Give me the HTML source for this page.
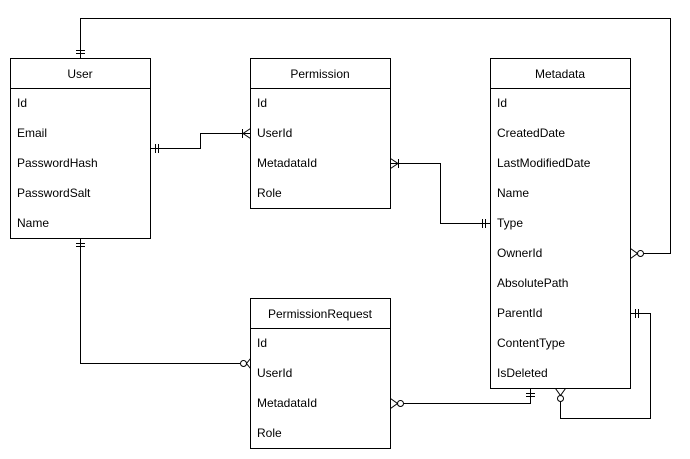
<!DOCTYPE html>
<html><head><meta charset="utf-8"><style>
html,body{margin:0;padding:0;background:#fff}
svg{display:block}
text{font-family:"Liberation Sans",Arial,sans-serif;font-size:12px;fill:#000}
</style></head><body>
<svg width="690" height="459" viewBox="0 0 690 459" xmlns="http://www.w3.org/2000/svg">
<g fill="#fff" stroke="#000" stroke-width="1">
<rect x="10.5" y="58.5" width="140" height="180"/><line x1="10.5" y1="88.5" x2="150.5" y2="88.5"/>
<rect x="250.5" y="58.5" width="140" height="150"/><line x1="250.5" y1="88.5" x2="390.5" y2="88.5"/>
<rect x="490.5" y="58.5" width="140" height="330"/><line x1="490.5" y1="88.5" x2="630.5" y2="88.5"/>
<rect x="250.5" y="298.5" width="140" height="150"/><line x1="250.5" y1="328.5" x2="390.5" y2="328.5"/>
</g>
<g fill="none" stroke="#000" stroke-width="1">
<!-- User top to OwnerId -->
<polyline points="80.5,58 80.5,18.5 670.5,18.5 670.5,253.5 644,253.5"/>
<line x1="76" y1="50.5" x2="85" y2="50.5"/><line x1="76" y1="53.5" x2="85" y2="53.5"/>
<circle cx="640.5" cy="253.5" r="3"/><polyline points="630.5,248.5 637.5,253.5 630.5,258.5"/>
<!-- User - Permission -->
<polyline points="150.5,148.5 200.5,148.5 200.5,133.5 250.5,133.5"/>
<line x1="155.5" y1="144" x2="155.5" y2="153"/><line x1="158.5" y1="144" x2="158.5" y2="153"/>
<line x1="242.5" y1="129" x2="242.5" y2="138"/><polyline points="250.5,128.5 243,133.5 250.5,138.5"/>
<!-- Permission - Metadata Type -->
<polyline points="390.5,163.5 440.5,163.5 440.5,223.5 490.5,223.5"/>
<line x1="398.5" y1="159" x2="398.5" y2="168"/><polyline points="390.5,158.5 398,163.5 390.5,168.5"/>
<line x1="482.5" y1="219" x2="482.5" y2="228"/><line x1="485.5" y1="219" x2="485.5" y2="228"/>
<!-- User bottom - PermissionRequest -->
<polyline points="80.5,238 80.5,363.5 240,363.5"/>
<line x1="76" y1="243.5" x2="85" y2="243.5"/><line x1="76" y1="246.5" x2="85" y2="246.5"/>
<circle cx="243.5" cy="363.5" r="3"/><polyline points="250.5,358.5 246.5,363.5 250.5,368.5"/>
<!-- PermissionRequest - Metadata bottom -->
<polyline points="404,403.5 530.5,403.5 530.5,388"/>
<circle cx="400.5" cy="403.5" r="3"/><polyline points="390.5,398.5 397.5,403.5 390.5,408.5"/>
<line x1="526" y1="393.5" x2="535" y2="393.5"/><line x1="526" y1="396.5" x2="535" y2="396.5"/>
<!-- ParentId self -->
<polyline points="630.5,313.5 650.5,313.5 650.5,418.5 560.5,418.5 560.5,402"/>
<line x1="635.5" y1="309" x2="635.5" y2="318"/><line x1="638.5" y1="309" x2="638.5" y2="318"/>
<circle cx="560.5" cy="398.5" r="3"/><polyline points="555.5,388.5 560.5,395.5 565.5,388.5"/>
</g>
<g>
<text x="80" y="78" text-anchor="middle">User</text>
<text x="17" y="107">Id</text><text x="17" y="137">Email</text><text x="17" y="167">PasswordHash</text><text x="17" y="197">PasswordSalt</text><text x="17" y="227">Name</text>
<text x="320" y="78" text-anchor="middle">Permission</text>
<text x="257" y="107">Id</text><text x="257" y="137">UserId</text><text x="257" y="167">MetadataId</text><text x="257" y="197">Role</text>
<text x="560" y="78" text-anchor="middle">Metadata</text>
<text x="497" y="107">Id</text><text x="497" y="137">CreatedDate</text><text x="497" y="167">LastModifiedDate</text><text x="497" y="197">Name</text><text x="497" y="227">Type</text><text x="497" y="257">OwnerId</text><text x="497" y="287">AbsolutePath</text><text x="497" y="317">ParentId</text><text x="497" y="347">ContentType</text><text x="497" y="377">IsDeleted</text>
<text x="320" y="318" text-anchor="middle">PermissionRequest</text>
<text x="257" y="347">Id</text><text x="257" y="377">UserId</text><text x="257" y="407">MetadataId</text><text x="257" y="437">Role</text>
</g>
</svg>
</body></html>
